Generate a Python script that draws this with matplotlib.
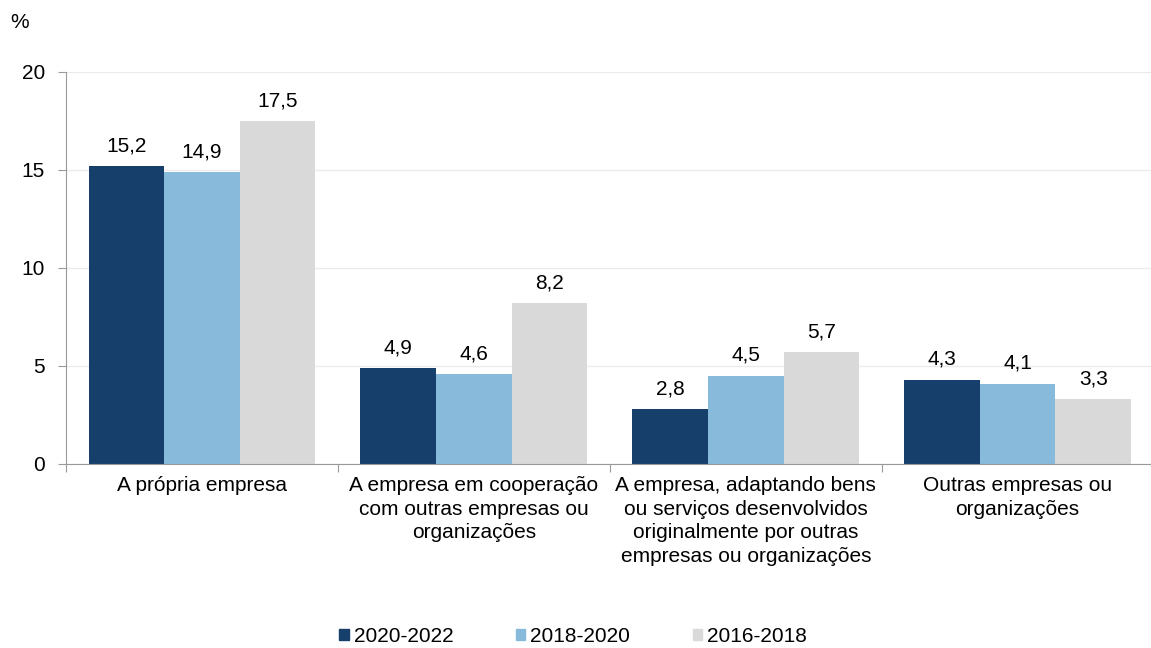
import numpy as np
import matplotlib.pyplot as plt
from matplotlib.patches import Patch

plt.rcParams['font.family'] = ['Liberation Sans', 'DejaVu Sans']

categories = [
    "A própria empresa",
    "A empresa em cooperação\ncom outras empresas ou\norganizações",
    "A empresa, adaptando bens\nou serviços desenvolvidos\noriginalmente por outras\nempresas ou organizações",
    "Outras empresas ou\norganizações",
]
series_names = ["2020-2022", "2018-2020", "2016-2018"]
v_2020_2022 = [15.2, 4.9, 2.8, 4.3]
v_2018_2020 = [14.9, 4.6, 4.5, 4.1]
v_2016_2018 = [17.5, 8.2, 5.7, 3.3]
colors = ["#173F6B", "#88BADC", "#D9D9D9"]
fs = 15

fig = plt.figure(figsize=(11.51, 6.48), dpi=100)
ax = fig.add_axes([0.0573, 0.284, 0.945, 0.605])

x = np.arange(len(categories))
width = 0.278
for i, vals in enumerate([v_2020_2022, v_2018_2020, v_2016_2018]):
    pos = x + (i - 1) * width
    ax.bar(pos, vals, width=width, color=colors[i], zorder=2)
    for p, v in zip(pos, vals):
        ax.text(p, v + 0.55, f"{v:.1f}".replace(".", ","), ha="center", va="bottom", fontsize=fs)

ax.set_xlim(-0.5, len(categories) - 0.5)
ax.set_ylim(0, 20)
ax.set_yticks([0, 5, 10, 15, 20])
ax.yaxis.grid(True, color="#EBEBEB", lw=1, zorder=0)
ax.tick_params(axis="y", labelsize=fs, length=6, color="#999999", pad=9)

# category labels centered, ticks at category boundaries
ax.set_xticks(np.arange(-0.5, len(categories)), minor=False)
ax.set_xticklabels([])
ax.set_xticks(x, minor=True)
ax.set_xticklabels(categories, minor=True, fontsize=fs, linespacing=1.3)
ax.tick_params(axis="x", which="major", length=6, color="#999999")
ax.tick_params(axis="x", which="minor", length=0, pad=9)

for s in ["top", "right"]:
    ax.spines[s].set_visible(False)
ax.spines["left"].set_color("#999999")
ax.spines["bottom"].set_color("#999999")

fig.text(0.009, 0.966, "%", fontsize=fs, ha="left", va="center")

handles = [Patch(color=c) for c in colors]
fig.legend(handles, series_names, loc="center", bbox_to_anchor=(0.498, 0.018),
           ncol=3, frameon=False, fontsize=fs, handlelength=0.45, handleheight=0.45,
           handletextpad=0.25, columnspacing=3.0)

fig.savefig("out.png", dpi=100)
